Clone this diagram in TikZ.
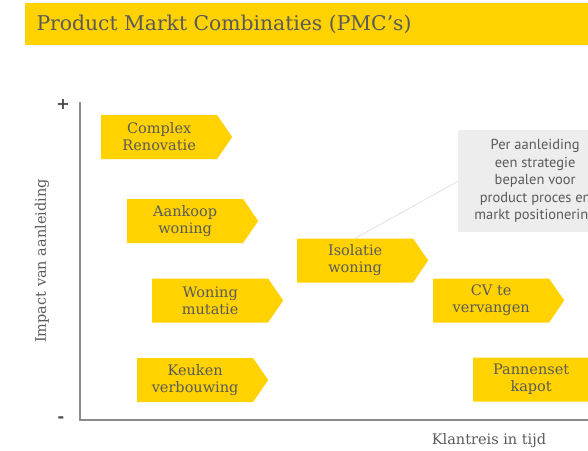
\documentclass[tikz,border=0pt]{standalone}
\usepackage{fontspec}
\setmainfont{DejaVu Serif}
\newfontfamily\notefont{PT Sans}
\newfontfamily\markfont{DejaVu Sans}
\usetikzlibrary{shapes.symbols,positioning}
\definecolor{pmcyellow}{HTML}{FFD200}
\definecolor{pmcgrey}{HTML}{5A5A5A}
\definecolor{axisgrey}{HTML}{8A8C8E}
\definecolor{notegrey}{HTML}{EDEDED}
\tikzset{x=1pt,y=-1pt}
\tikzset{pmc/.style={signal,signal to=east,signal pointer angle=111,
    fill=pmcyellow,draw=none,minimum width=131pt,minimum height=44pt,
    inner sep=0pt,anchor=west,text=pmcgrey,align=center,
    font=\fontsize{14.5}{17}\selectfont}}
\tikzset{axislabel/.style={text=pmcgrey,font=\fontsize{14.5}{17}\selectfont}}
\tikzset{axismark/.style={text=pmcgrey!85!black,font=\markfont\bfseries\fontsize{16}{16}\selectfont}}
\begin{document}
\begin{tikzpicture}
  \useasboundingbox (0,0) rectangle (588,450);
  \clip (0,0) rectangle (588,450);
  \fill[pmcyellow] (25,3) rectangle (588,45);
  \node[anchor=west,text=pmcgrey,font=\fontsize{20.3}{24}\selectfont] (title) at (33,24) {Product Markt Combinaties (PMC’s)};
  \coordinate (o) at (80,420);
  \draw[axisgrey,line width=1.4pt] (80,102) -- (o) -- (588,420);
  \node[axismark] (plus) at (63,104) {+};
  \node[axismark] (minus) at (61,420) {-};
  \node[axislabel,rotate=90] (impact) at (42,261) {Impact van aanleiding};
  \node[axislabel] (reis) at (489,441) {Klantreis in tijd};
  \node[pmc] (cr) at (101,137) {Complex\\Renovatie};
  \node[pmc] (ak) at (127,221) {Aankoop\\woning};
  \node[pmc] (wm) at (152,300.5) {Woning\\mutatie};
  \node[pmc] (kv) at (137,380) {Keuken\\verbouwing};
  \node[pmc] (iw) at (297,260.5) {Isolatie\\woning};
  \node[pmc] (cv) at (433,300.5) {CV te\\vervangen};
  \node[pmc] (pk) at (473,379.5) {Pannenset\\kapot};
  \node[fill=notegrey,minimum width=154pt,minimum height=102pt,anchor=north west,
    align=center,text=pmcgrey,font=\notefont\fontsize{14.5}{17.5}\selectfont] (note) at (458,130)
    {Per aanleiding\\een strategie\\bepalen voor\\product proces en\\markt positionering};
  \draw[black!12,line width=0.8pt] (iw.north) -- (note.west);
\end{tikzpicture}
\end{document}
